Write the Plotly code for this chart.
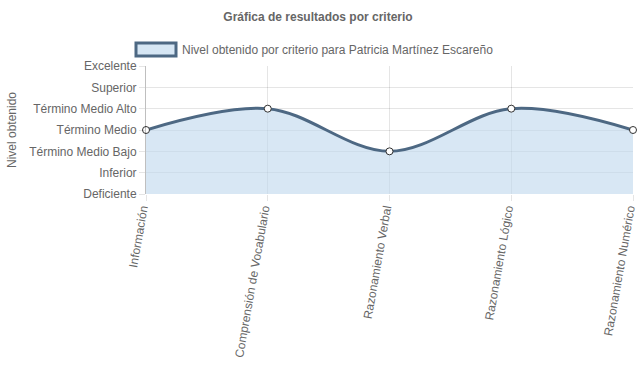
import plotly.graph_objects as go

criterios = ["Información", "Comprensión de Vocabulario", "Razonamiento Verbal",
             "Razonamiento Lógico", "Razonamiento Numérico"]
niveles = ["Deficiente", "Inferior", "Término Medio Bajo", "Término Medio",
           "Término Medio Alto", "Superior", "Excelente"]
valores = [3, 4, 2, 4, 3]

line_color = "#4d6883"
fill_color = "rgba(190,215,237,0.6)"
grid = "rgba(0,0,0,0.1)"
txt = "#666666"
serie = "Nivel obtenido por criterio para Patricia Martínez Escareño"

W, H = 637, 389
# plot area in page pixels: x 146..633, y 66..194
L, T = 146, 66
R = W - 633
B = H - 194
pw, ph = W - L - R, H - T - B


def px(x):
    return (x - L) / pw


def py(y):
    return (H - B - y) / ph


xs = list(range(len(criterios)))

fig = go.Figure()
fig.add_trace(go.Scatter(
    x=xs, y=valores, mode="lines+markers",
    line=dict(color=line_color, width=3, shape="spline", smoothing=1.0),
    fill="tozeroy", fillcolor=fill_color,
    marker=dict(size=7, color="white", line=dict(color="#333333", width=1)),
    cliponaxis=False, showlegend=False, hoverinfo="skip",
))

# Chart.js-like legend box
fig.add_shape(type="rect", xref="paper", yref="paper",
              x0=px(136), x1=px(176), y0=py(56), y1=py(43),
              fillcolor="rgba(214,230,244,1)", line=dict(color=line_color, width=3))
fig.add_annotation(text=serie, xref="paper", yref="paper", x=px(180), y=py(49.5),
                   xanchor="left", yanchor="middle", showarrow=False,
                   font=dict(size=12, color=txt))
# y-axis title
fig.add_annotation(text="Nivel obtenido", xref="paper", yref="paper", x=px(12), y=0.5,
                   xanchor="center", yanchor="middle", textangle=-90, showarrow=False,
                   font=dict(size=12, color=txt))

fig.update_layout(
    width=W, height=H,
    margin=dict(l=L, r=R, t=T, b=B),
    paper_bgcolor="white", plot_bgcolor="white",
    showlegend=False,
    font=dict(family="Liberation Sans, Arial, sans-serif", size=12, color=txt),
    title=dict(text="<b>Gráfica de resultados por criterio</b>", x=px(318), xanchor="center",
               xref="paper", y=1 - 17 / H, yanchor="middle",
               font=dict(size=12, color=txt)),
    xaxis=dict(
        range=[0, 4], tickmode="array", tickvals=xs, ticktext=criterios,
        tickangle=-80, showgrid=True, gridcolor=grid, ticks="outside", ticklen=6,
        tickcolor=grid, zeroline=False, showline=False, automargin=False,
        ticklabeloverflow="allow", ticklabelshift=-4, ticklabelstandoff=-4,
        tickfont=dict(size=12, color=txt),
    ),
    yaxis=dict(
        range=[0, 6], tickmode="array", tickvals=list(range(len(niveles))), ticktext=niveles,
        showgrid=True, gridcolor=grid, ticks="outside", ticklen=6, tickcolor=grid,
        zeroline=False, showline=True, linecolor="rgba(0,0,0,0.25)", automargin=False,
        ticklabeloverflow="allow",
        tickfont=dict(size=12, color=txt),
    ),
)
fig.write_html(
    "out.html",
    config={"displayModeBar": False},
    post_script="document.body.style.margin='0';document.body.style.overflow='hidden';",
)
